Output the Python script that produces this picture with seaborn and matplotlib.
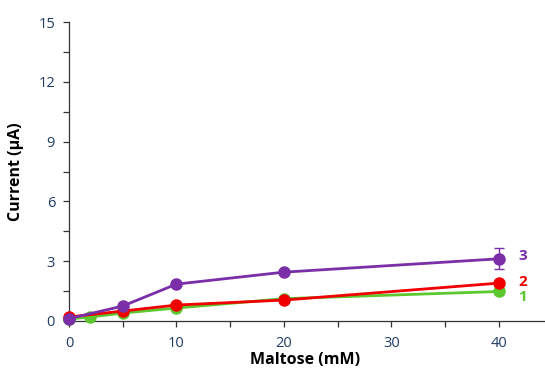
import matplotlib
matplotlib.use("Agg")
import matplotlib.pyplot as plt
import seaborn as sns
import pandas as pd
import numpy as np
from matplotlib.ticker import MultipleLocator

sns.set_style("ticks")
plt.rcParams['font.family'] = ['Open Sans', 'DejaVu Sans']

# data
x1 = [0, 2, 5, 10, 20, 40]
y1 = [0.1, 0.2, 0.4, 0.65, 1.12, 1.48]
e1 = [0, 0, 0, 0, 0, 0.15]
x2 = [0, 5, 10, 20, 40]
y2 = [0.2, 0.5, 0.8, 1.05, 1.9]
e2 = [0, 0, 0, 0, 0.1]
x3 = [0, 5, 10, 20, 40]
y3 = [0.12, 0.75, 1.85, 2.45, 3.12]
e3 = [0, 0, 0, 0, 0.52]
labels = ["1", "2", "3"]
colors = ["#5CC82E", "#F00000", "#7A2EA8"]

series = [(x1, y1, e1), (x2, y2, e2), (x3, y3, e3)]
rows = []
for lab, (xs, ys, es) in zip(labels, series):
    for xv, yv in zip(xs, ys):
        rows.append({"Maltose": xv, "Current": yv, "Series": lab})
df = pd.DataFrame(rows)

fig = plt.figure(figsize=(5.45, 3.7), dpi=100)
ax = fig.add_axes([69/545, 1 - 321/370, (545 - 69)/545, (321 - 22)/370])

pal = dict(zip(labels, colors))
sns.lineplot(data=df, x="Maltose", y="Current", hue="Series", palette=pal,
             marker="o", markersize=9, markeredgewidth=0, linewidth=2.0,
             legend=False, ax=ax, clip_on=False, zorder=3)
for lab, (xs, ys, es), c in zip(labels, series, colors):
    ax.errorbar(xs, ys, yerr=es, fmt="none", ecolor=c, elinewidth=1.0,
                capsize=3.5, capthick=1.0, zorder=2, clip_on=False)

for line in ax.lines:
    line.set_clip_on(False)

# end labels
label_y = [1.18, 1.95, 3.25]
for lab, c, ly in zip(labels, colors, label_y):
    ax.text(41.8, ly, lab, color=c, fontsize=11, fontweight="bold",
            va="center", ha="left")

ax.set_xlim(0, 44.3)
ax.set_ylim(0, 15)
ax.xaxis.set_major_locator(MultipleLocator(10))
ax.xaxis.set_minor_locator(MultipleLocator(5))
ax.yaxis.set_major_locator(MultipleLocator(3))
ax.yaxis.set_minor_locator(MultipleLocator(1.5))
ax.tick_params(which="both", direction="out", length=4, width=0.9, color="#333333")
ax.tick_params(which="major", labelsize=10.5, labelcolor="#1F3C64")
ax.tick_params(axis="x", which="major", pad=7)
ax.tick_params(axis="y", which="major", pad=6)
for s in ["top", "right"]:
    ax.spines[s].set_visible(False)
for s in ["left", "bottom"]:
    ax.spines[s].set_color("#333333")
    ax.spines[s].set_linewidth(0.9)

ax.set_xlabel("Maltose (mM)", fontsize=11.5, fontweight="bold", color="black")
ax.xaxis.set_label_coords(0.495, -0.158)
ax.xaxis.label.set_va("bottom")
ax.set_ylabel("Current (\u00b5A)", fontsize=11.5, fontweight="bold", color="black", labelpad=10)

fig.savefig("out.png", dpi=100)
